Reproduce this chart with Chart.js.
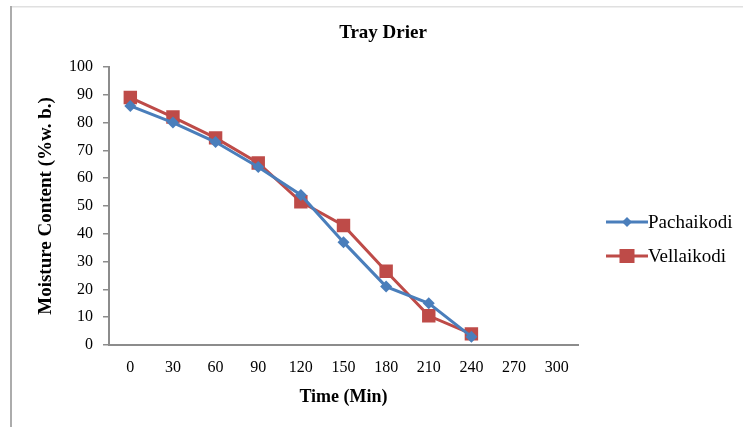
<!DOCTYPE html>
<html>
<head>
<meta charset="utf-8">
<title>Tray Drier</title>
<script src="https://cdn.jsdelivr.net/npm/chart.js@4"></script>
<style>
  html, body { margin: 0; padding: 0; background: #fff; }
  #wrap { width: 743px; height: 427px; position: relative; }
</style>
</head>
<body>
<div id="wrap"><canvas id="chart" width="743" height="427"></canvas></div>
<script>
// drying time (min) and moisture content (% wet basis)
const timeLabels = ['0', '30', '60', '90', '120', '150', '180', '210', '240', '270', '300'];
const pachaikodi = [86, 80, 73, 64, 54, 37, 21, 15, 3];
const vellaikodi = [89, 82, 74.5, 65.5, 51.5, 43, 26.5, 10.5, 4];
const yTicks = [0, 10, 20, 30, 40, 50, 60, 70, 80, 90, 100];

const serif = '"Liberation Serif", "Times New Roman", serif';

// frame lines, title and the line+marker legend
const decorations = {
    id: 'decorations',
    afterDraw(chart) {
        const ctx = chart.ctx;
        ctx.save();
        ctx.fillStyle = '#e0e0e0';
        ctx.fillRect(10, 6, 733, 1.5);
        ctx.fillStyle = '#acacac';
        ctx.fillRect(10, 6, 2, 421);

        ctx.fillStyle = '#000';
        ctx.font = 'bold 19px ' + serif;
        ctx.textAlign = 'center';
        ctx.textBaseline = 'middle';
        ctx.fillText('Tray Drier', 383, 33);

        const items = chart.data.datasets;
        items.forEach((ds, i) => {
            const y = 222 + i * 34;
            ctx.strokeStyle = ds.borderColor;
            ctx.lineWidth = 3;
            ctx.beginPath();
            ctx.moveTo(606, y);
            ctx.lineTo(648, y);
            ctx.stroke();
            ctx.fillStyle = ds.borderColor;
            if (ds.pointStyle === 'rect') {
                ctx.fillRect(619.5, y - 7, 15, 14);
            } else {
                ctx.beginPath();
                ctx.moveTo(627, y - 5);
                ctx.lineTo(632, y);
                ctx.lineTo(627, y + 5);
                ctx.lineTo(622, y);
                ctx.closePath();
                ctx.fill();
            }
            ctx.fillStyle = '#000';
            ctx.font = '19px ' + serif;
            ctx.textAlign = 'left';
            ctx.fillText(ds.label, 648, y + 1);
        });
        ctx.restore();
    }
};

new Chart(document.getElementById('chart'), {
    type: 'line',
    data: {
        labels: timeLabels,
        datasets: [
            {
                label: 'Pachaikodi',
                data: pachaikodi,
                borderColor: '#4a7ebb',
                backgroundColor: '#4a7ebb',
                borderWidth: 3,
                pointStyle: 'rectRot',
                pointRadius: 6,
                pointBorderWidth: 0,
                tension: 0
            },
            {
                label: 'Vellaikodi',
                data: vellaikodi,
                borderColor: '#be4b48',
                backgroundColor: '#be4b48',
                borderWidth: 3,
                pointStyle: 'rect',
                pointRadius: 9.5,
                pointBorderWidth: 0,
                tension: 0
            }
        ]
    },
    options: {
        responsive: false,
        animation: false,
        layout: { padding: { left: 35, right: 165, top: 67, bottom: 19 } },
        plugins: {
            legend: { display: false },
            tooltip: { enabled: false }
        },
        scales: {
            x: {
                offset: true,
                grid: { display: false, drawTicks: false },
                border: { color: '#8c8c8c', width: 2 },
                ticks: {
                    color: '#000',
                    font: { family: serif, size: 16 },
                    padding: 13,
                    maxRotation: 0,
                    autoSkip: false
                },
                title: {
                    display: true,
                    text: 'Time (Min)',
                    color: '#000',
                    font: { family: serif, size: 18, weight: 'bold' },
                    padding: 0
                },
                afterFit(scale) { scale.height = 63; }
            },
            y: {
                min: 0,
                max: 100,
                afterBuildTicks(scale) {
                    scale.ticks = yTicks.map(v => ({ value: v }));
                },
                grid: {
                    display: true,
                    drawOnChartArea: false,
                    tickLength: 6,
                    tickColor: '#8c8c8c',
                    lineWidth: 1.5
                },
                border: { color: '#8c8c8c', width: 2 },
                ticks: {
                    color: '#000',
                    font: { family: serif, size: 16 },
                    padding: 10
                },
                title: {
                    display: true,
                    text: 'Moisture Content (%w. b.)',
                    color: '#000',
                    font: { family: serif, size: 19, weight: 'bold' },
                    padding: 0
                },
                afterFit(scale) { scale.width = 74; }
            }
        }
    },
    plugins: [decorations]
});
</script>
</body>
</html>
